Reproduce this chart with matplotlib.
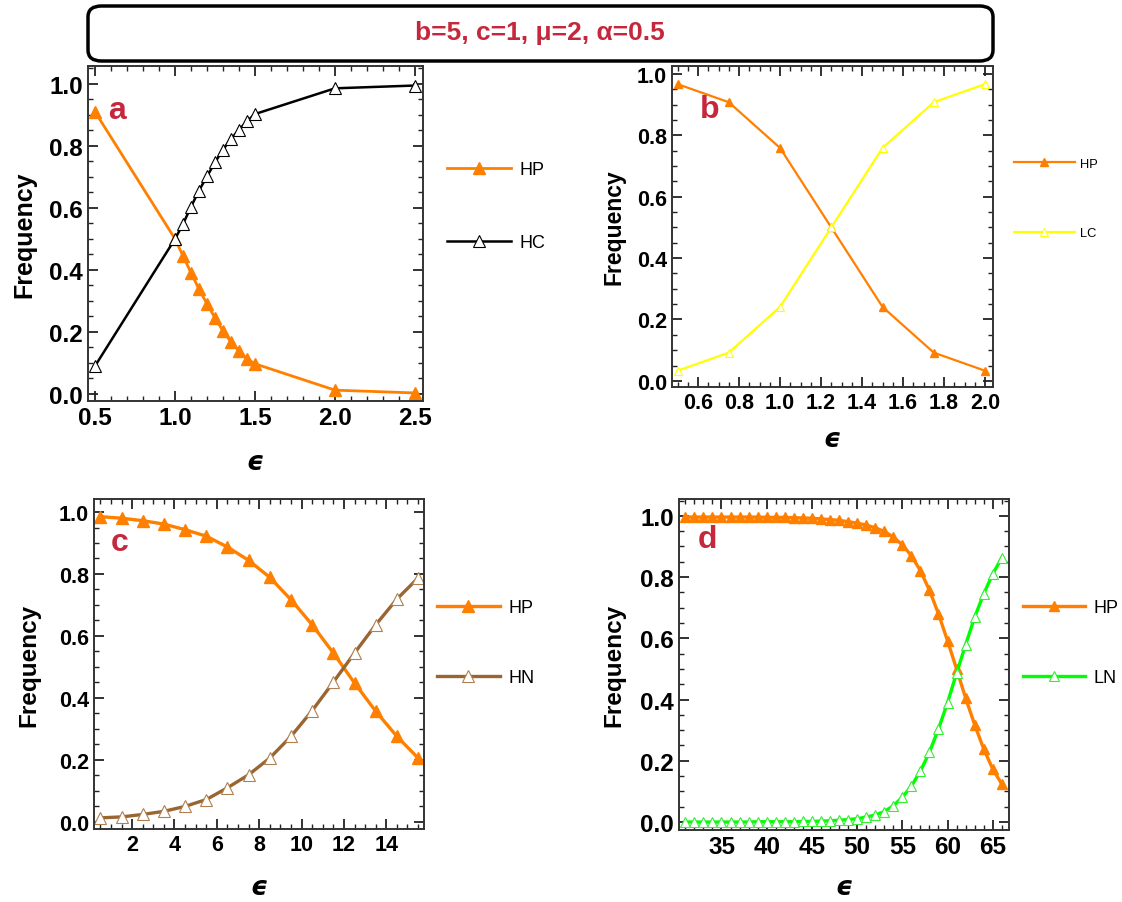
import matplotlib
matplotlib.use("Agg")
from matplotlib import pyplot as plt
from matplotlib.patches import FancyBboxPatch
from matplotlib.ticker import MultipleLocator

# panel a: HP vs HC
eps_a = [0.5, 1.0, 1.05, 1.1, 1.15, 1.2, 1.25, 1.3, 1.35, 1.4, 1.45, 1.5, 2.0, 2.5]
hp_a = [0.91, 0.5, 0.445, 0.39, 0.338, 0.29, 0.245, 0.203, 0.167, 0.138, 0.113, 0.097, 0.012, 0.003]
hc_a = [0.09, 0.5, 0.548, 0.604, 0.656, 0.702, 0.747, 0.788, 0.823, 0.852, 0.88, 0.903, 0.986, 0.995]

# panel b: HP vs LC
eps_b = [0.5, 0.75, 1.0, 1.25, 1.5, 1.75, 2.0]
hp_b = [0.967, 0.908, 0.759, 0.5, 0.241, 0.092, 0.033]
lc_b = [0.033, 0.092, 0.241, 0.5, 0.759, 0.908, 0.967]

# panel c: HP vs HN
eps_c = [0.5, 1.5, 2.5, 3.5, 4.5, 5.5, 6.5, 7.5, 8.5, 9.5, 10.5, 11.5, 12.5, 13.5, 14.5, 15.5]
hp_c = [0.985, 0.98, 0.972, 0.961, 0.943, 0.922, 0.887, 0.844, 0.789, 0.717, 0.636, 0.545, 0.448, 0.357, 0.276, 0.206]
hn_c = [0.013, 0.016, 0.024, 0.034, 0.05, 0.072, 0.11, 0.152, 0.206, 0.276, 0.359, 0.451, 0.545, 0.636, 0.719, 0.787]

# panel d: HP vs LN
eps_d = list(range(31, 67))
hp_d = [0.996, 0.996, 0.996, 0.996, 0.996, 0.996, 0.996, 0.996, 0.996, 0.995,
        0.995, 0.995, 0.994, 0.993, 0.992, 0.99, 0.988, 0.985, 0.981, 0.976,
        0.97, 0.961, 0.949, 0.931, 0.905, 0.87, 0.821, 0.757, 0.68, 0.592,
        0.5, 0.405, 0.318, 0.239, 0.173, 0.124]
ln_d = [0.0, 0.0, 0.0, 0.0, 0.0, 0.0, 0.0, 0.0, 0.001, 0.001,
        0.001, 0.001, 0.001, 0.002, 0.002, 0.003, 0.004, 0.006, 0.008, 0.011,
        0.016, 0.023, 0.034, 0.053, 0.081, 0.117, 0.166, 0.228, 0.304, 0.39,
        0.486, 0.579, 0.669, 0.745, 0.81, 0.863]

ORANGE = '#ff8000'
RED = '#c5283d'
BOLD = ['Liberation Sans', 'DejaVu Sans']

fig = plt.figure(figsize=(11.22, 9.03), dpi=100)

# header box with the parameters
box = FancyBboxPatch((88 / 1122, 1 - 62 / 903), 905 / 1122, 55 / 903,
                     boxstyle='round,pad=0,rounding_size=0.012',
                     transform=fig.transFigure, facecolor='white',
                     edgecolor='black', linewidth=2.5)
fig.patches.append(box)
fig.text(540 / 1122, 1 - 33 / 903, 'b=5, c=1, μ=2, α=0.5', color=RED,
         fontsize=19, fontweight='bold', ha='center', va='center',
         family=BOLD)


def setup(ax, xlim, ylim, xmajor, xminor, xticks, letter, letter_xy,
          tick_fs, ylab_fs, ylab_x, xlab_y):
    ax.set_xlim(*xlim)
    ax.set_ylim(*ylim)
    ax.xaxis.set_major_locator(MultipleLocator(xmajor))
    ax.xaxis.set_minor_locator(MultipleLocator(xminor))
    ax.yaxis.set_major_locator(MultipleLocator(0.2))
    ax.yaxis.set_minor_locator(MultipleLocator(0.05))
    ax.set_xticks(xticks)
    ax.tick_params(which='both', direction='in', top=True, right=True,
                   color='#222222')
    ax.tick_params(which='major', length=7, width=1.3)
    ax.tick_params(which='minor', length=3.5, width=1.0)
    for lab in ax.get_xticklabels() + ax.get_yticklabels():
        lab.set_fontweight('bold')
        lab.set_fontsize(tick_fs)
        lab.set_family(BOLD)
    for s in ax.spines.values():
        s.set_color('#333333')
        s.set_linewidth(1.4)
    ax.set_ylabel('Frequency', fontsize=ylab_fs, fontweight='bold', family=BOLD)
    ax.yaxis.set_label_coords(ylab_x, 0.5)
    ax.set_xlabel('ϵ', fontsize=19, fontweight='bold', style='italic',
                  family=['DejaVu Sans'])
    ax.xaxis.set_label_coords(0.5, xlab_y)
    ax.xaxis.label.set_va('center')
    ax.text(letter_xy[0], letter_xy[1], letter, transform=ax.transAxes,
            color=RED, fontsize=23, fontweight='bold', family=BOLD,
            ha='left', va='center')


def add_legend(ax, anchor, fs, handlelength, spacing):
    ax.legend(loc='center left', bbox_to_anchor=anchor, frameon=False,
              borderpad=0, borderaxespad=0, labelspacing=spacing,
              handlelength=handlelength, handletextpad=0.45, numpoints=1,
              prop={'family': BOLD[0], 'size': fs})


# a
ax_a = fig.add_axes([88 / 1122, 1 - 402 / 903, 335 / 1122, 335 / 903])
ax_a.plot(eps_a, hp_a, color=ORANGE, lw=2.0, marker='^', ms=8, mfc=ORANGE,
          mec=ORANGE, label='HP')
ax_a.plot(eps_a, hc_a, color='black', lw=1.8, marker='^', ms=8, mfc='white',
          mec='black', mew=0.8, label='HC')
setup(ax_a, (0.456, 2.55), (-0.023, 1.058), 0.5, 0.1,
      [0.5, 1.0, 1.5, 2.0, 2.5], 'a', (0.06, 0.868),
      tick_fs=17.5, ylab_fs=18, ylab_x=-0.155, xlab_y=-0.182)
ax_a.set_xticklabels(['0.5', '1.0', '1.5', '2.0', '2.5'])
add_legend(ax_a, (1.072, 0.582), fs=13, handlelength=3.55, spacing=3.1)

# b
ax_b = fig.add_axes([672 / 1122, 1 - 388 / 903, 321 / 1122, 321 / 903])
ax_b.plot(eps_b, hp_b, color=ORANGE, lw=1.6, marker='^', ms=6, mfc=ORANGE,
          mec=ORANGE, label='HP')
ax_b.plot(eps_b, lc_b, color='#ffff00', lw=1.6, marker='^', ms=6, mfc='white',
          mec='#ffff00', mew=0.8, label='LC')
setup(ax_b, (0.473, 2.039), (-0.02, 1.026), 0.2, 0.05,
      [0.6, 0.8, 1.0, 1.2, 1.4, 1.6, 1.8, 2.0], 'b', (0.087, 0.866),
      tick_fs=15.5, ylab_fs=16.5, ylab_x=-0.146, xlab_y=-0.162)
ax_b.set_xticklabels(['0.6', '0.8', '1.0', '1.2', '1.4', '1.6', '1.8', '2.0'])
add_legend(ax_b, (1.065, 0.587), fs=9.3, handlelength=4.7, spacing=4.45)

# c
ax_c = fig.add_axes([94 / 1122, 1 - 830 / 903, 330 / 1122, 330 / 903])
ax_c.plot(eps_c, hp_c, color=ORANGE, lw=2.4, marker='^', ms=9, mfc=ORANGE,
          mec=ORANGE, label='HP')
ax_c.plot(eps_c, hn_c, color='#996633', lw=2.4, marker='^', ms=9, mfc='white',
          mec='#b08050', mew=0.8, label='HN')
setup(ax_c, (0.2, 15.78), (-0.023, 1.042), 2, 0.5,
      [2, 4, 6, 8, 10, 12, 14], 'c', (0.05, 0.87),
      tick_fs=15.5, ylab_fs=17.5, ylab_x=-0.164, xlab_y=-0.176)
add_legend(ax_c, (1.039, 0.565), fs=13, handlelength=3.5, spacing=2.95)

# d
ax_d = fig.add_axes([679 / 1122, 1 - 831 / 903, 330 / 1122, 331 / 903])
ax_d.plot(eps_d, hp_d, color=ORANGE, lw=2.4, marker='^', ms=6.5, mfc=ORANGE,
          mec=ORANGE, label='HP')
ax_d.plot(eps_d, ln_d, color='#00ff00', lw=2.4, marker='^', ms=6.5, mfc='white',
          mec='#33ee33', mew=0.8, label='LN')
setup(ax_d, (30.3, 66.8), (-0.026, 1.055), 5, 1,
      [35, 40, 45, 50, 55, 60, 65], 'd', (0.058, 0.88),
      tick_fs=17.5, ylab_fs=17.5, ylab_x=-0.164, xlab_y=-0.172)
add_legend(ax_d, (1.042, 0.566), fs=13, handlelength=3.45, spacing=2.95)

fig.savefig('out.png', dpi=100)
